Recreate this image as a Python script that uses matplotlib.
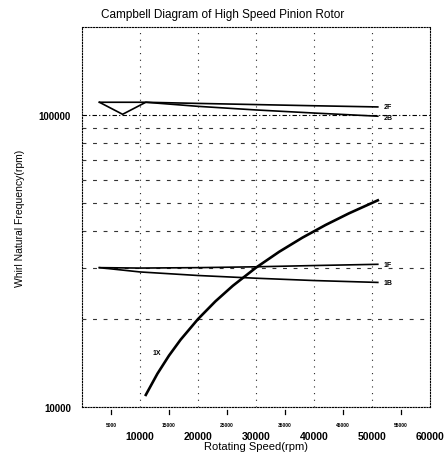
import matplotlib
matplotlib.use("Agg")
import matplotlib.pyplot as plt
from matplotlib.ticker import FixedLocator, NullFormatter

plt.rcParams['font.family'] = ['Liberation Sans', 'DejaVu Sans']

# Data (rpm)
x_1x = [11000, 13000, 15000, 17000, 20000, 23000, 26000, 30000, 34000, 38000, 42000, 46000, 51000]
y_1x = [11000, 13000, 15000, 17000, 20000, 23000, 26000, 30000, 34000, 38000, 42000, 46000, 51000]

x_1f = [3000, 10000, 20000, 30000, 40000, 51000]
y_1f = [30000, 29900, 30000, 30200, 30500, 30800]

x_1b = [3000, 10000, 20000, 30000, 40000, 51000]
y_1b = [30000, 29000, 28200, 27600, 27100, 26700]

x_2f = [3000, 11000, 20000, 30000, 40000, 51000]
y_2f = [110500, 110500, 109500, 108500, 107500, 106500]

x_2b = [3000, 7000, 11000, 20000, 30000, 40000, 51000]
y_2b = [110500, 100500, 110500, 107000, 104000, 101500, 99000]

fig = plt.figure(figsize=(4.46, 4.6), dpi=100)
ax = fig.add_axes([82/446, 1-408/460, (430-82)/446, (408-28)/460])
ax.set_yscale('log')
ax.set_xlim(0, 60000)
ax.set_ylim(10000, 200000)

# grid lines
for v in [10000, 20000, 30000, 40000, 50000]:
    ax.axvline(v, color='0.15', lw=0.8, ls=(0, (1, 5)), zorder=1)
for h in [20000, 30000, 40000, 50000, 60000, 70000, 80000, 90000]:
    ax.axhline(h, color='0.2', lw=0.8, ls=(0, (3.5, 6)), zorder=1)
ax.axhline(100000, color='black', lw=0.8, ls=(0, (4, 2, 1, 2)), zorder=1)
ax.axhline(10000, color='black', lw=0.8, ls=(0, (4, 2, 1, 2)), zorder=1)

lw = 1.2
ax.plot(x_1x, y_1x, color='black', lw=1.9, zorder=3)
ax.plot(x_1f, y_1f, color='black', lw=lw, zorder=3)
ax.plot(x_1b, y_1b, color='black', lw=lw, zorder=3)
ax.plot(x_2f, y_2f, color='black', lw=lw, zorder=3)
ax.plot(x_2b, y_2b, color='black', lw=lw, zorder=3)

lab = dict(fontsize=5, fontweight='bold', va='center', ha='left')
ax.text(x_2f[-1] + 1000, y_2f[-1], '2F', **lab)
ax.text(x_2b[-1] + 1000, y_2b[-1] * 0.99, '2B', **lab)
ax.text(x_1f[-1] + 1000, y_1f[-1], '1F', **lab)
ax.text(x_1b[-1] + 1000, y_1b[-1], '1B', **lab)
ax.text(12200, 15400, '1X', **lab)

for s in ax.spines.values():
    s.set_linestyle((0, (1, 1.5)))
    s.set_linewidth(0.8)

ax.yaxis.set_major_locator(FixedLocator([10000, 100000]))
ax.yaxis.set_minor_locator(FixedLocator([]))
ax.yaxis.set_minor_formatter(NullFormatter())
ax.set_yticklabels(['10000', '100000'], fontsize=7, fontweight='bold')
ax.tick_params(axis='y', length=0, pad=8)

major_x = [10000, 20000, 30000, 40000, 50000, 60000]
minor_x = [5000, 15000, 25000, 35000, 45000, 55000]
ax.xaxis.set_major_locator(FixedLocator(major_x))
ax.set_xticklabels([str(v) for v in major_x], fontsize=7.5, fontweight='bold')
ax.tick_params(axis='x', length=0, pad=17)
tr = ax.get_xaxis_transform()
for v in minor_x:
    ax.text(v, -0.045, str(v), transform=tr,
            fontsize=3.5, fontweight='bold', ha='center', va='center')
    ax.plot([v, v], [-0.018, -0.008], color='black', lw=0.9,
            transform=tr, clip_on=False, zorder=2)

ax.set_xlabel('Rotating Speed(rpm)', fontsize=8, labelpad=0)
ax.set_ylabel('Whirl Natural Frequency(rpm)', fontsize=7.5, labelpad=10)
fig.suptitle('Campbell Diagram of High Speed Pinion Rotor', fontsize=8.5, y=0.98)

fig.savefig('out.png', dpi=100)
